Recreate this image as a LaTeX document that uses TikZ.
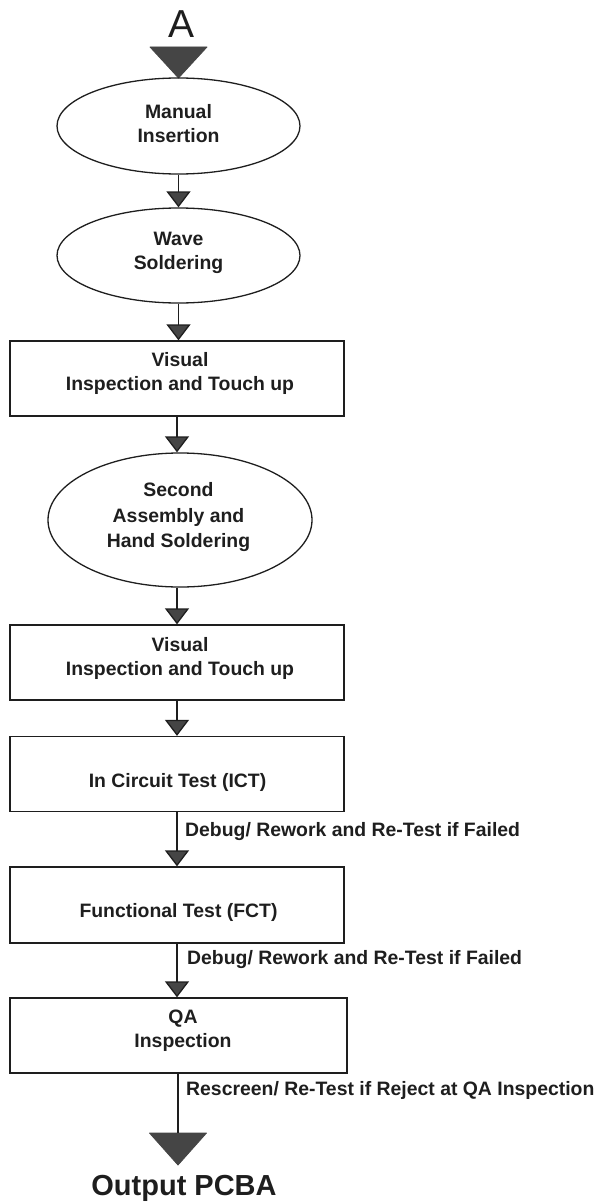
\documentclass[tikz,border=0pt]{standalone}
\usepackage{fontspec}
\setmainfont{Liberation Sans}
\usetikzlibrary{shapes.geometric,arrows.meta}
\definecolor{ink}{HTML}{1E1E1E}
\definecolor{tipgray}{HTML}{454545}
\tikzset{
  x=1pt, y=-1pt,
  lbl/.style={font=\fontsize{19.4}{24}\selectfont\bfseries, text=ink, align=center, inner sep=0pt},
  note/.style={font=\fontsize{19.4}{24}\selectfont\bfseries, text=ink, anchor=west, inner sep=0pt},
  oval/.style={ellipse, draw=ink, line width=1.3pt, inner sep=0pt},
  stepbox/.style={rectangle, draw=ink, line width=1.3pt, inner sep=0pt, minimum width=334pt, minimum height=75pt},
  flow/.style={draw=ink, line width=1.3pt, -{Triangle[width=24pt,length=16pt,fill=tipgray]}},
  bigtri/.style={fill=tipgray, draw=tipgray, line width=0.8pt, line join=round},
}
\begin{document}
\begin{tikzpicture}
\useasboundingbox (0,0) rectangle (602,1204);

% entry connector
\node[font=\fontsize{39}{39}\selectfont, text=ink, anchor=base, inner sep=0pt] (entry) at (182,38) {A};
\coordinate (entryTip) at (178.5,78);
\fill[bigtri] (150,47) -- (207,47) -- (entryTip) -- cycle;

% process steps
\node[oval, minimum width=243pt, minimum height=96pt] (ins) at (178.5,126) {};
\node[lbl] (insT) at (178.5,124) {Manual\\Insertion};

\node[oval, minimum width=243pt, minimum height=95pt] (wave) at (178.5,255.5) {};
\node[lbl] (waveT) at (178.5,253) {Wave\\Soldering};

\node[stepbox] (vis1) at (177,378.5) {};
\node[lbl] (vis1T) at (180,373.5) {Visual\\Inspection and Touch up};

\node[oval, minimum width=264pt, minimum height=134pt] (hand) at (180,520) {};
\node[lbl, font=\fontsize{19.4}{25.5}\selectfont\bfseries] (handT) at (178.5,517.5) {Second\\Assembly and\\Hand Soldering};

\node[stepbox] (vis2) at (177,662.5) {};
\node[lbl] (vis2T) at (180,658.5) {Visual\\Inspection and Touch up};

\node[stepbox] (ict) at (177,774) {};
\node[lbl] (ictT) at (177.5,782) {In Circuit Test (ICT)};

\node[stepbox, minimum height=76pt] (fct) at (177,905) {};
\node[lbl] (fctT) at (178.5,912.5) {Functional Test (FCT)};

\node[stepbox, minimum width=337pt] (qa) at (178.5,1035.5) {};
\node[lbl] (qaT) at (183,1031) {QA\\Inspection};

% exit connector
\coordinate (exitTop) at (178,1133);
\coordinate (exitTip) at (178,1165);
\fill[bigtri] (149.5,1133) -- (206.5,1133) -- (exitTip) -- cycle;
\node[font=\fontsize{29}{29}\selectfont\bfseries, text=ink, anchor=base, inner sep=0pt] (out) at (184,1195) {Output PCBA};

% connectors
\draw[flow] (ins.south) -- (wave.north);
\draw[flow] (wave.south) -- (wave.south |- vis1.north);
\draw[flow] (vis1.south) -- (vis1.south |- hand.north);
\draw[flow] (hand.south -| vis2.north) -- (vis2.north);
\draw[flow] (vis2.south) -- (ict.north);
\draw[flow] (ict.south) -- (fct.north);
\draw[flow] (fct.south) -- (fct.south |- qa.north);
\draw[draw=ink, line width=1.3pt] (qa.south -| exitTop) -- (exitTop);

% rework notes
\node[note] (n1) at (185,832) {Debug/ Rework and Re-Test if Failed};
\node[note] (n2) at (187,960) {Debug/ Rework and Re-Test if Failed};
\node[note] (n3) at (186,1090) {Rescreen/ Re-Test if Reject at QA Inspection};
\end{tikzpicture}
\end{document}
